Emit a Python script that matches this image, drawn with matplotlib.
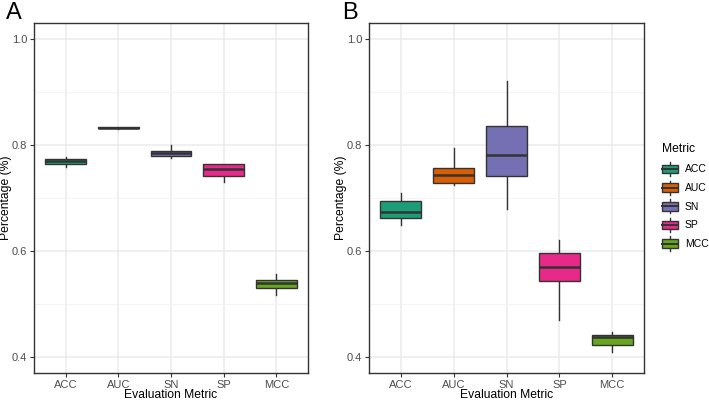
import matplotlib
matplotlib.use("Agg")
import matplotlib.pyplot as plt
from matplotlib.legend_handler import HandlerBase
from matplotlib.patches import Rectangle
from matplotlib.lines import Line2D

plt.rcParams['font.family'] = ['Liberation Sans', 'DejaVu Sans']

metrics = ["ACC", "AUC", "SN", "SP", "MCC"]
colors = ["#1B9E77", "#D95F02", "#7570B3", "#E7298A", "#66A61E"]

# Panel A box statistics
a_low = [0.758, 0.831, 0.776, 0.730, 0.517]
a_q1 = [0.765, 0.832, 0.780, 0.741, 0.531]
a_med = [0.769, 0.832, 0.784, 0.755, 0.539]
a_q3 = [0.773, 0.833, 0.789, 0.764, 0.546]
a_high = [0.778, 0.834, 0.800, 0.764, 0.556]

# Panel B box statistics
b_low = [0.650, 0.724, 0.680, 0.470, 0.409]
b_q1 = [0.662, 0.729, 0.742, 0.543, 0.422]
b_med = [0.674, 0.743, 0.781, 0.570, 0.437]
b_q3 = [0.694, 0.757, 0.835, 0.597, 0.442]
b_high = [0.710, 0.795, 0.920, 0.620, 0.447]

yticks = [0.4, 0.6, 0.8, 1.0]
ytick_labels = ["0.4", "0.6", "0.8", "1.0"]
yminor = [0.5, 0.7, 0.9]

EDGE = "#333333"
LW = 1.0

fig = plt.figure(figsize=(7.09, 4.0), dpi=100)
axA = fig.add_axes([34/709, 1-373/400, (308-34)/709, (373-23)/400])
axB = fig.add_axes([369/709, 1-373/400, (644-369)/709, (373-23)/400])


def draw(ax, low, q1, med, q3, high, ylab_x):
    stats = []
    for i, m in enumerate(metrics):
        stats.append(dict(med=med[i], q1=q1[i], q3=q3[i], whislo=low[i], whishi=high[i], fliers=[], label=m))
    pos = list(range(1, len(metrics) + 1))
    bp = ax.bxp(stats, positions=pos, widths=0.77, patch_artist=True, showcaps=False,
                showfliers=False,
                boxprops=dict(edgecolor=EDGE, linewidth=LW),
                medianprops=dict(color=EDGE, linewidth=LW * 1.8, solid_capstyle='butt'),
                whiskerprops=dict(color=EDGE, linewidth=LW))
    for patch, c in zip(bp['boxes'], colors):
        patch.set_facecolor(c)
    for w in bp['whiskers']:
        w.set_zorder(1.5)
    ax.set_xlim(0.4, 5.6)
    ax.set_ylim(0.37, 1.03)
    ax.set_yticks(yticks)
    ax.set_yticklabels(ytick_labels)
    ax.set_yticks(yminor, minor=True)
    ax.set_xticks(pos)
    ax.set_xticklabels(metrics)
    ax.set_facecolor("white")
    ax.grid(True, which='major', color="#EBEBEB", linewidth=1.1, zorder=0)
    ax.grid(True, which='minor', axis='y', color="#F2F2F2", linewidth=0.6, zorder=0)
    ax.set_axisbelow(True)
    for s in ax.spines.values():
        s.set_color("#333333")
        s.set_linewidth(1.0)
    ax.tick_params(axis='both', which='major', length=3, width=0.8, color="#333333",
                   labelcolor="#4D4D4D", labelsize=8, pad=2)
    ax.tick_params(axis='y', which='minor', length=0)
    ax.set_xlabel("Evaluation Metric", fontsize=8.7, color="black", labelpad=0)
    ax.set_ylabel("Percentage (%)", fontsize=8.7, color="black")
    bb = ax.get_position()
    ax.yaxis.set_label_coords((ylab_x / 709 - bb.x0) / bb.width, 0.5)
    ax.xaxis.set_label_coords(0.5, ((1 - 389 / 400) - bb.y0) / bb.height)
    ax.xaxis.label.set_va('top')


draw(axA, a_low, a_q1, a_med, a_q3, a_high, 12)
draw(axB, b_low, b_q1, b_med, b_q3, b_high, 347)

fig.text(6/709, 1-2/400, "A", fontsize=17, va='top', ha='left')
fig.text(342/709, 1-2/400, "B", fontsize=17, va='top', ha='left')


class BoxHandler(HandlerBase):
    def create_artists(self, legend, orig_handle, xdescent, ydescent, width, height, fontsize, trans):
        c = orig_handle.get_facecolor()
        bh = height * 0.75
        y0 = (height - bh) / 2 - ydescent
        x0 = -xdescent
        r = Rectangle((x0, y0), width, bh, facecolor=c, edgecolor=EDGE, linewidth=LW, transform=trans)
        mid = y0 + bh / 2
        med = Line2D([x0, x0 + width], [mid, mid], color=EDGE, linewidth=LW * 1.4, transform=trans)
        xc = x0 + width / 2
        w1 = Line2D([xc, xc], [y0 + bh, y0 + bh + height * 0.25], color=EDGE, linewidth=LW, transform=trans)
        w2 = Line2D([xc, xc], [y0, y0 - height * 0.25], color=EDGE, linewidth=LW, transform=trans)
        return [w1, w2, r, med]


handles = [Rectangle((0, 0), 1, 1, facecolor=c) for c in colors]
leg = fig.legend(handles, metrics, title="Metric", loc='upper left',
                 bbox_to_anchor=(662/709, 1-143/400), frameon=False,
                 handler_map={Rectangle: BoxHandler()},
                 handlelength=1.5, handleheight=1.3, handletextpad=0.7,
                 labelspacing=0.7, fontsize=7.5, title_fontsize=8.7, borderaxespad=0,
                 borderpad=0.0)
leg._legend_box.align = "left"
leg._legend_box._children[0]._children[0]  # title box
leg._legend_box.sep = 6

fig.savefig("out.png", dpi=100)
